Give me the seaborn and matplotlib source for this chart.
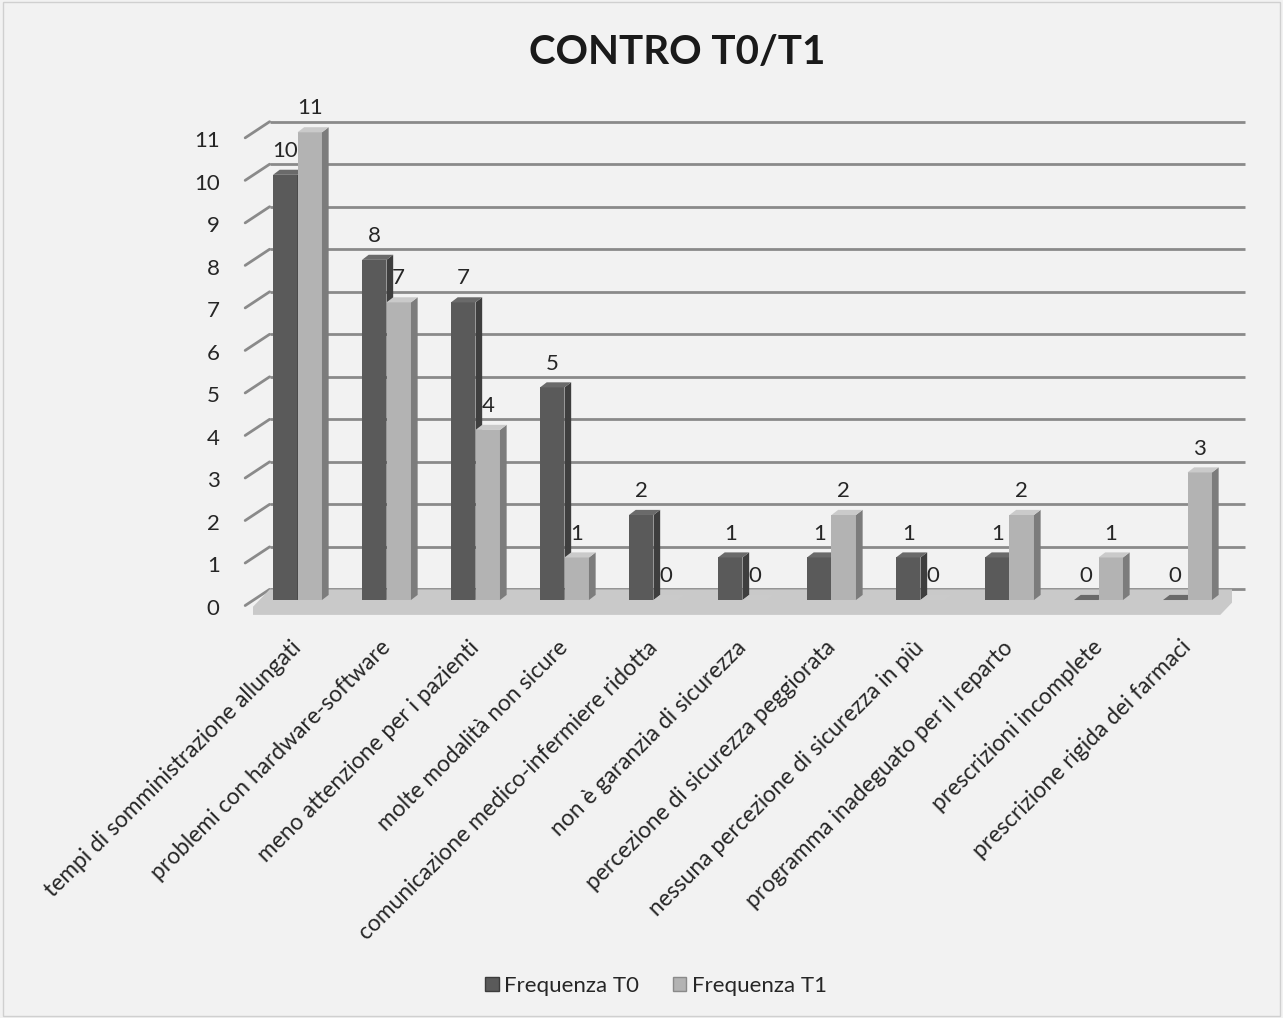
import matplotlib
matplotlib.use("Agg")
import matplotlib.pyplot as plt
import matplotlib.transforms as mtrans
from matplotlib.patches import Patch, Polygon
import seaborn as sns
import pandas as pd

categories = [
    "tempi di somministrazione allungati",
    "problemi con hardware-software",
    "meno attenzione per i pazienti",
    "molte modalità non sicure",
    "comunicazione medico-infermiere ridotta",
    "non è garanzia di sicurezza",
    "percezione di sicurezza peggiorata",
    "nessuna percezione di sicurezza in più",
    "programma inadeguato per il reparto",
    "prescrizioni incomplete",
    "prescrizione rigida dei farmaci",
]
freq_t0 = [10, 8, 7, 5, 2, 1, 1, 1, 1, 0, 0]
freq_t1 = [11, 7, 4, 1, 0, 0, 2, 0, 2, 1, 3]
series = ["Frequenza T0", "Frequenza T1"]
yticks = list(range(0, 12))

df = pd.DataFrame({
    "cat": categories * 2,
    "val": freq_t0 + freq_t1,
    "serie": [series[0]] * len(categories) + [series[1]] * len(categories),
})

sns.set_theme(style="white")
plt.rcParams["font.family"] = ["Lato", "DejaVu Sans"]

dark = "#5a5a5a"
light = "#b3b3b3"
side_cols = ["#3e3e3e", "#7c7c7c"]
top_cols = ["#6a6a6a", "#cacaca"]
bg = "#f2f2f2"
grid_col = "#8a8a8a"

W, H = 1283, 1018
fig = plt.figure(figsize=(W / 100, H / 100), dpi=100, facecolor=bg)
ax = fig.add_axes([253 / W, (H - 620) / H, (1232 - 253) / W, 520 / H])
ax.set_facecolor(bg)

sns.barplot(data=df, x="cat", y="val", hue="serie", palette=[dark, light],
            width=0.55, saturation=1, ax=ax, edgecolor="none", linewidth=0,
            legend=False)

ax.set_ylim(-0.47, 11.76)
ax.set_xlim(-0.5, 10.5)
ax.set_yticks(yticks)
ax.set_yticklabels([str(v) for v in yticks], fontsize=16)
ax.tick_params(axis="y", length=0, pad=24)
ax.tick_params(axis="x", length=0, pad=12)
ax.set_xticks(range(len(categories)))
ax.set_xticklabels(categories, rotation=45, ha="right", rotation_mode="anchor", fontsize=16.4)
ax.set_xlabel("")
ax.set_ylabel("")
for s in ax.spines.values():
    s.set_visible(False)
shift = mtrans.ScaledTranslation(0, -5 / 72, fig.dpi_scale_trans)
for lab in ax.get_yticklabels():
    lab.set_transform(lab.get_transform() + shift)
xshift = mtrans.ScaledTranslation(-7 / 100, 0, fig.dpi_scale_trans)
for lab in ax.get_xticklabels():
    lab.set_transform(lab.get_transform() + xshift)

# back-wall gridlines with perspective stubs
tr = mtrans.blended_transform_factory(ax.transAxes, ax.transData)
back = 0.25
for v in yticks:
    ax.plot([0.017, 1.013], [v + back, v + back], color=grid_col, lw=2, transform=tr,
            zorder=0, clip_on=False, solid_capstyle="butt")
    ax.plot([-0.008, 0.017], [v - 0.13, v + back], color=grid_col, lw=2, transform=tr,
            zorder=0, clip_on=False)
# floor
floor = Polygon([(0.017, back), (1.013, back), (0.988, -0.35), (-0.008, -0.35)],
                closed=True, transform=tr, facecolor="#c9c9c9", edgecolor="none", zorder=0.5)
ax.add_patch(floor)

# pseudo-3D faces derived from the drawn bars
d, dy = 0.075, 0.12
for i, cont in enumerate(ax.containers):
    for p in cont.patches:
        x0, w, h = p.get_x(), p.get_width(), p.get_height()
        p.set_zorder(2 + i)
        ax.add_patch(Polygon([(x0 + w, 0), (x0 + w, h), (x0 + w + d, h + dy), (x0 + w + d, dy)],
                             closed=True, facecolor=side_cols[i], edgecolor="none", zorder=2.1 + i))
        ax.add_patch(Polygon([(x0, h), (x0 + w, h), (x0 + w + d, h + dy), (x0 + d, h + dy)],
                             closed=True, facecolor=top_cols[i], edgecolor="none", zorder=2.2 + i))

for cont in ax.containers:
    ax.bar_label(cont, fmt="%d", padding=10, fontsize=16, zorder=5)

handles = [Patch(facecolor=dark, edgecolor="#3c3c3c"), Patch(facecolor=light, edgecolor="#8a8a8a")]
fig.legend(handles, series, loc="center", bbox_to_anchor=(656 / W, (H - 986) / H), ncol=2,
           frameon=False, fontsize=16, handlelength=0.6, handleheight=0.6,
           handletextpad=0.25, columnspacing=1.5)

fig.text(677 / W, (H - 52) / H, "CONTRO T0/T1", ha="center", va="center",
         fontsize=29, fontweight="bold", color="#1a1a1a")

border = plt.Rectangle((0.002, 0.002), 0.996, 0.996, transform=fig.transFigure,
                       fill=False, edgecolor="#d0d0d0", lw=1)
fig.patches.append(border)

fig.savefig("out.png", dpi=100, facecolor=bg)
